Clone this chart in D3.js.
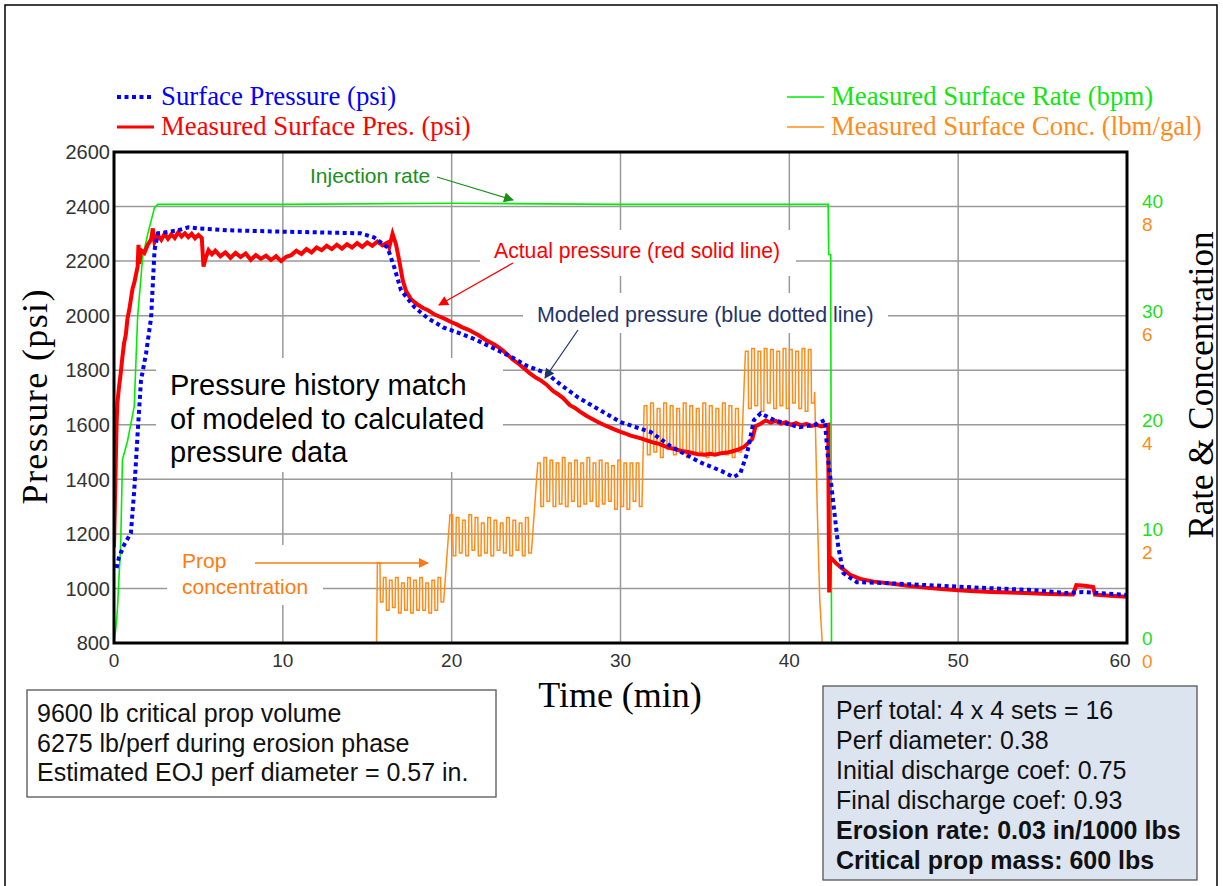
<!DOCTYPE html>
<html>
<head>
<meta charset="utf-8">
<script src="https://cdn.jsdelivr.net/npm/d3@7"></script>
<style>
body{margin:0;background:#fff;}
svg{display:block;}
</style>
</head>
<body>
<div id="chart"></div>
<script>
// ---- data (time in minutes) ----
// modeled surface pressure, psi (blue dotted)
const modelTime = [0.15,0.3,0.6,1.0,1.2,1.4,1.6,1.9,2.2,2.4,2.6,3.0,3.8,4.4,5.0,6.7,10,14.6,15.4,16.2,16.6,17.0,17.8,18.6,19.5,20.5,21.5,22.5,23.5,24.5,25.6,26.5,27.5,28.8,30,31.8,33,34.7,36.0,36.7,37.1,37.5,37.9,38.3,39.1,40.6,41.5,42.1,42.3,42.5,42.7,42.9,43.2,44.0,45.6,50.5,54.4,56.4,57.4,60];
const modelPres = [1075,1115,1160,1203,1360,1569,1763,1862,1994,2240,2302,2305,2313,2324,2320,2313,2308,2302,2287,2250,2177,2093,2031,1990,1957,1935,1910,1880,1850,1815,1789,1745,1700,1653,1610,1573,1520,1463,1430,1408,1423,1496,1617,1642,1617,1591,1600,1617,1470,1371,1262,1152,1056,1023,1020,1005,994,983,987,976];

// measured surface pressure, psi (red, noisy)
const measTime = [0,0.05,0.1,0.15,0.2,0.3,0.4,0.5,0.6,0.7,0.8,0.9,1.0,1.1,1.2,1.3,1.4,1.45,1.5,1.6,1.8,2.0,2.2,2.3,2.4,2.6,2.8,3.0,3.2,3.4,3.6,3.8,4.0,4.2,4.4,4.6,4.8,5.0,5.2,5.3,5.45,5.6,5.8,6.0,6.3,6.6,6.9,7.2,7.5,7.8,8.1,8.4,8.7,9.0,9.3,9.6,9.9,10.2,10.5,10.8,11.1,11.4,11.7,12.0,12.3,12.6,12.9,13.2,13.5,13.8,14.1,14.4,14.7,15.0,15.3,15.6,15.9,16.2,16.3,16.5,16.7,16.9,17.1,17.3,17.6,18.0,18.3,18.6,19.0,19.3,19.6,20.0,20.3,20.6,21.0,21.3,21.6,22.0,22.3,22.6,23.0,23.3,23.6,24.0,24.3,24.6,25.0,25.3,25.6,26.0,26.3,26.6,27.0,27.3,27.6,28.0,28.3,28.6,29.0,29.3,29.6,30.0,30.3,30.6,31.0,31.3,31.6,32.0,32.3,32.6,33.0,33.3,33.6,34.0,34.3,34.6,35.0,35.3,35.6,36.0,36.3,36.6,37.0,37.3,37.6,37.8,38.0,38.3,38.6,38.9,39.2,39.5,39.8,40.1,40.4,40.7,41.0,41.3,41.6,41.9,42.3,42.36,42.42,42.8,43.2,43.6,44.2,45.0,46.0,47.0,48.0,49.0,50.0,51.0,52.0,53.0,54.0,55.0,56.0,56.8,57.0,57.5,58.0,58.1,59.0,60.0];
const measPres = [1150,1300,1450,1600,1680,1740,1790,1850,1900,1930,1990,2020,2060,2100,2120,2150,2180,2260,2190,2240,2230,2260,2280,2320,2270,2295,2278,2300,2282,2298,2285,2305,2290,2302,2288,2300,2284,2296,2285,2180,2215,2240,2225,2238,2218,2232,2212,2230,2215,2228,2205,2222,2208,2220,2204,2218,2200,2216,2222,2238,2226,2244,2232,2250,2240,2256,2244,2260,2246,2262,2250,2266,2252,2268,2256,2272,2258,2268,2250,2300,2262,2200,2130,2090,2060,2040,2028,2020,2004,1996,1988,1976,1968,1958,1948,1938,1928,1912,1902,1892,1874,1858,1840,1822,1806,1790,1772,1762,1748,1724,1712,1698,1672,1662,1648,1632,1622,1612,1600,1592,1584,1574,1568,1560,1554,1548,1542,1534,1530,1522,1514,1510,1504,1500,1496,1492,1490,1494,1490,1496,1498,1502,1510,1518,1535,1548,1595,1604,1616,1608,1614,1604,1610,1600,1606,1598,1603,1596,1600,1594,1600,985,1115,1090,1070,1050,1035,1025,1018,1010,1003,998,993,990,987,985,983,981,979,978,1012,1010,1005,977,973,970];

// measured surface rate, bpm (green)
const rateTime = [0,0.1,0.2,0.4,0.5,0.8,1.2,1.4,1.7,2.0,2.4,2.6,10,20,30,42.3,42.33,42.45,42.5,60];
const rateVal  = [0,1.2,3,9.2,16.8,18.5,21.7,29.9,35.4,37.5,39.9,40.2,40.2,40.3,40.2,40.2,35.6,35.6,0,0];

// measured surface concentration, lbm/gal (orange): five prop stages
const stageStart = [15.6, 19.9, 25.1, 31.4, 37.4];
const stageEnd   = [19.55, 24.75, 31.3, 37.2, 41.5];
const stageTops = [
  [1.47,1.2,1.15,1.2,1.1,1.2,1.15,1.2,1.1,1.15,1.2],
  [2.35,2.3,2.25,2.35,2.3,2.2,2.3,2.25,2.2,2.3,2.25,2.2,2.3],
  [3.3,3.4,3.35,3.3,3.4,3.3,3.35,3.3,3.4,3.3,3.35,3.3,3.25,3.35,3.3,3.3,3.3],
  [4.35,4.4,4.3,4.4,4.35,4.3,4.4,4.35,4.3,4.4,4.35,4.3,4.4,4.35,4.3],
  [5.35,5.4,5.35,5.4,5.38,5.35,5.4,5.38,5.35,5.4,5.38]
];
const stageLows = [
  [0.75,0.6,0.65,0.55,0.6,0.55,0.6,0.6,0.55,0.6,0.75],
  [1.6,1.65,1.6,1.7,1.6,1.65,1.6,1.7,1.65,1.6,1.7,1.6,1.65],
  [2.5,2.6,2.5,2.55,2.5,2.6,2.5,2.55,2.6,2.5,2.55,2.6,2.45,2.5,2.45,2.6,2.5],
  [3.45,3.5,3.4,3.55,3.45,3.5,3.4,3.45,3.5,3.4,3.45,3.5,3.45,3.4,3.5],
  [4.3,4.35,4.25,4.4,4.3,4.35,4.3,4.4,4.3,4.25,4.4]
];
const concTailTime = [41.5,41.65,41.8,41.95];
const concTailVal  = [4.6,2.5,0.8,0];

// axis ticks
const timeTicks = [0,10,20,30,40,50,60];
const presTicks = [800,1000,1200,1400,1600,1800,2000,2200,2400,2600];
const rateTicks = [0,10,20,30,40];
const concTicks = [0,2,4,6,8];

// info boxes
const leftNotes = ["9600 lb critical prop volume","6275 lb/perf during erosion phase","Estimated EOJ perf diameter = 0.57 in."];
const rightNotes = ["Perf total: 4 x 4 sets = 16","Perf diameter: 0.38","Initial discharge coef: 0.75","Final discharge coef: 0.93","Erosion rate: 0.03 in/1000 lbs","Critical prop mass: 600 lbs"];

// ---- layout ----
const W = 1223, H = 886;
const plot = {left:114, right:1127, top:152, bottom:643};
const sans = "Liberation Sans, Arial, sans-serif";
const serif = "Liberation Serif, Times New Roman, serif";
const cRed = "#ff0000", cBlue = "#0000ff", cGreen = "#00ee00", cOrange = "#ff8c1a";

const x = d3.scaleLinear().domain([0,60]).range([plot.left, plot.right]);
const y = d3.scaleLinear().domain([800,2600]).range([plot.bottom, plot.top]);
const yRate = d3.scaleLinear().domain([0,40]).range([plot.bottom, y(2400)]);
const yConc = d3.scaleLinear().domain([0,8]).range([plot.bottom, y(2400)]);

const svg = d3.select("#chart").append("svg").attr("width", W).attr("height", H);
svg.append("rect").attr("width",W).attr("height",H).attr("fill","#fff");
// outer slide frame
svg.append("rect").attr("x",5).attr("y",5).attr("width",1212).attr("height",H+10)
  .attr("fill","none").attr("stroke","#000").attr("stroke-width",1.5);

svg.append("clipPath").attr("id","clip").append("rect")
  .attr("x",plot.left).attr("y",plot.top-4)
  .attr("width",plot.right-plot.left).attr("height",plot.bottom-plot.top+4);

// gridlines
const grid = svg.append("g").attr("stroke","#9a9a9a").attr("stroke-width",1.5);
grid.selectAll("line.h").data(presTicks.slice(1,-1)).join("line")
  .attr("x1",plot.left).attr("x2",plot.right).attr("y1",d=>y(d)).attr("y2",d=>y(d));
grid.selectAll("line.v").data(timeTicks.slice(1,-1)).join("line")
  .attr("y1",plot.top).attr("y2",plot.bottom).attr("x1",d=>x(d)).attr("x2",d=>x(d));

// white backgrounds behind annotation texts
const blanks = [[300,160,140,36],[480,230,316,46],[523,293,365,40],[156,358,347,114],[167,545,156,60]];
svg.selectAll("rect.blank").data(blanks).join("rect")
  .attr("x",d=>d[0]).attr("y",d=>d[1]).attr("width",d=>d[2]).attr("height",d=>d[3]).attr("fill","#fff");

// build concentration series
const concPts = [[15.55,0]];
stageStart.forEach((s,i)=>{
  const n = stageTops[i].length, dt = (stageEnd[i]-s)/n;
  stageTops[i].forEach((top,j)=>{
    const t0 = s + j*dt;
    concPts.push([t0, top],[t0+0.42*dt, top],[t0+0.5*dt, stageLows[i][j]],[t0+0.92*dt, stageLows[i][j]]);
  });
});
concTailTime.forEach((t,i)=>concPts.push([t, concTailVal[i]]));

const data = svg.append("g").attr("clip-path","url(#clip)");
data.append("path").datum(concPts)
  .attr("d", d3.line().x(d=>x(d[0])).y(d=>yConc(d[1])))
  .attr("fill","none").attr("stroke",cOrange).attr("stroke-width",1.5);
data.append("path").datum(rateTime.map((t,i)=>[t,rateVal[i]]))
  .attr("d", d3.line().x(d=>x(d[0])).y(d=>yRate(d[1])))
  .attr("fill","none").attr("stroke",cGreen).attr("stroke-width",1.6);
data.append("path").datum(measTime.map((t,i)=>[t,measPres[i]]))
  .attr("d", d3.line().x(d=>x(d[0])).y(d=>y(d[1])))
  .attr("fill","none").attr("stroke",cRed).attr("stroke-width",4).attr("stroke-linejoin","miter");
data.append("path").datum(modelTime.map((t,i)=>[t,modelPres[i]]))
  .attr("d", d3.line().x(d=>x(d[0])).y(d=>y(d[1])))
  .attr("fill","none").attr("stroke",cBlue).attr("stroke-width",4).attr("stroke-dasharray","4,3.5");

// plot frame
svg.append("rect").attr("x",plot.left).attr("y",plot.top)
  .attr("width",plot.right-plot.left).attr("height",plot.bottom-plot.top)
  .attr("fill","none").attr("stroke","#000").attr("stroke-width",3);

// axes labels
svg.append("g").selectAll("text").data(presTicks).join("text")
  .attr("x",110).attr("y",d=>y(d)).attr("dy","0.36em").attr("text-anchor","end")
  .attr("font-family",sans).attr("font-size",20).attr("fill","#333").text(d=>d);
svg.append("g").selectAll("text").data(timeTicks).join("text")
  .attr("x",d=>d===60? x(d)-7 : x(d)).attr("y",660).attr("dy","0.36em").attr("text-anchor","middle")
  .attr("font-family",sans).attr("font-size",19).attr("fill","#333").text(d=>d);
svg.append("g").selectAll("text").data(rateTicks).join("text")
  .attr("x",1142).attr("y",d=>yRate(d)-5).attr("dy","0.36em")
  .attr("font-family",sans).attr("font-size",19).attr("fill","#22dd22").text(d=>d);
svg.append("g").selectAll("text").data(concTicks).join("text")
  .attr("x",1142).attr("y",d=>yConc(d)+18).attr("dy","0.36em")
  .attr("font-family",sans).attr("font-size",19).attr("fill",cOrange).text(d=>d);

svg.append("text").attr("transform","translate(47,397) rotate(-90)").attr("text-anchor","middle")
  .attr("font-family",serif).attr("font-size",36).attr("textLength",215).text("Pressure (psi)");
svg.append("text").attr("x",620).attr("y",707).attr("text-anchor","middle")
  .attr("font-family",serif).attr("font-size",36).text("Time (min)");
svg.append("text").attr("transform","translate(1213,385) rotate(-90)").attr("text-anchor","middle")
  .attr("font-family",serif).attr("font-size",35).text("Rate & Concentration");

// legend
const legend = [
  {x:117, y:97, color:cBlue, dash:"4,3.5", w:4, text:"Surface Pressure (psi)", tc:cBlue},
  {x:117, y:127, color:cRed, dash:null, w:3, text:"Measured Surface Pres. (psi)", tc:cRed},
  {x:787, y:97, color:cGreen, dash:null, w:1.5, text:"Measured Surface Rate (bpm)", tc:"#11e611"},
  {x:787, y:127, color:cOrange, dash:null, w:1.5, text:"Measured Surface Conc. (lbm/gal)", tc:cOrange}
];
const lg = svg.append("g").selectAll("g").data(legend).join("g");
lg.append("line").attr("x1",d=>d.x).attr("x2",d=>d.x+37).attr("y1",d=>d.y).attr("y2",d=>d.y)
  .attr("stroke",d=>d.color).attr("stroke-width",d=>d.w).attr("stroke-dasharray",d=>d.dash);
lg.append("text").attr("x",d=>d.x+44).attr("y",d=>d.y+8)
  .attr("font-family",serif).attr("font-size",26.8).attr("fill",d=>d.tc).text(d=>d.text);

// annotations
const defs = svg.append("defs");
function marker(id,color){
  defs.append("marker").attr("id",id).attr("viewBox","0 0 10 10").attr("refX",9).attr("refY",5)
    .attr("markerWidth",12).attr("markerHeight",10).attr("markerUnits","userSpaceOnUse").attr("orient","auto")
    .append("path").attr("d","M0,0L10,5L0,10z").attr("fill",color);
}
marker("mGreen","#1a8f1a"); marker("mRed",cRed); marker("mNavy","#1f3468"); marker("mOrange","#ff7a10");

const notes = [
  {x:310, y:183, text:"Injection rate", color:"#1a8f1a", size:21, arrow:[437,177,513,200], m:"mGreen"},
  {x:494, y:258, text:"Actual pressure (red solid line)", color:cRed, size:21.2, arrow:[513,263,439,305], m:"mRed"},
  {x:537, y:322, text:"Modeled pressure (blue dotted line)", color:"#1f3468", size:21.4, arrow:[578,330,545,378], m:"mNavy"},
  {x:182, y:568, text:"Prop", color:"#ff7a10", size:21, arrow:[255,563,428,563], m:"mOrange"},
  {x:182, y:594, text:"concentration", color:"#ff7a10", size:21}
];
notes.forEach(n=>{
  svg.append("text").attr("x",n.x).attr("y",n.y).attr("font-family",sans).attr("font-size",n.size)
    .attr("fill",n.color).text(n.text);
  if(n.arrow){
    svg.append("line").attr("x1",n.arrow[0]).attr("y1",n.arrow[1]).attr("x2",n.arrow[2]).attr("y2",n.arrow[3])
      .attr("stroke",n.color).attr("stroke-width",1.3).attr("marker-end",`url(#${n.m})`);
  }
});
["Pressure history match","of modeled to calculated","pressure data"].forEach((t,i)=>{
  svg.append("text").attr("x",170).attr("y",395+i*33.5).attr("font-family",sans)
    .attr("font-size",29).attr("fill","#000").text(t);
});

// info boxes
svg.append("rect").attr("x",27).attr("y",690).attr("width",469).attr("height",107)
  .attr("fill","#fff").attr("stroke","#555").attr("stroke-width",1.3);
leftNotes.forEach((t,i)=>{
  svg.append("text").attr("x",37).attr("y",722+i*29.5).attr("font-family",sans)
    .attr("font-size",25).attr("fill","#111").text(t);
});
svg.append("rect").attr("x",823).attr("y",686).attr("width",374).attr("height",194)
  .attr("fill","#dce4f0").attr("stroke","#555").attr("stroke-width",1.3);
rightNotes.forEach((t,i)=>{
  svg.append("text").attr("x",836).attr("y",719+i*30).attr("font-family",sans)
    .attr("font-size",25).attr("font-weight",i>=4?"bold":"normal").attr("fill","#111").text(t);
});
</script>
</body>
</html>
